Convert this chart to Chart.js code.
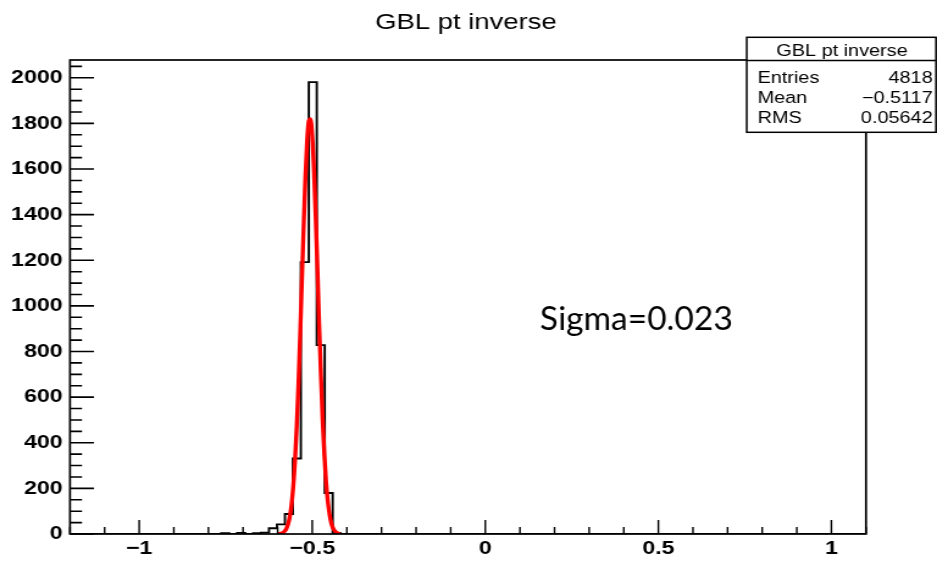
<!DOCTYPE html>
<html>
<head>
<meta charset="utf-8">
<script src="https://cdn.jsdelivr.net/npm/chart.js@4.4.1/dist/chart.umd.min.js"></script>
<style>
  html, body { margin: 0; padding: 0; background: #fff; overflow: hidden; }
  /* the ROOT canvas in the slide is stretched sideways, so draw narrow and stretch */
  #wrap { width: 768px; height: 561px; transform: scaleX(1.22005); transform-origin: 0 0; }
</style>
</head>
<body>
<div id="wrap"><canvas id="c" width="768" height="561"></canvas></div>
<script>
const S = 937 / 768;
const FONT = '"Liberation Sans", Arial, Helvetica, sans-serif';

// axis ranges and tick labels
const xRange = [-1.2, 1.1];
const yRange = [0, 2078];
const xTickValues = [-1, -0.5, 0, 0.5, 1];
const xTickLabels = ['\u22121', '\u22120.5', '0', '0.5', '1'];
const yTickValues = [0, 200, 400, 600, 800, 1000, 1200, 1400, 1600, 1800, 2000];
const yTickLabels = ['0', '200', '400', '600', '800', '1000', '1200', '1400', '1600', '1800', '2000'];

// histogram: low edges of the filled bins (bin width 0.023), counts, and the last upper edge
const binLowEdges = [-0.763, -0.740, -0.717, -0.694, -0.671, -0.648, -0.625, -0.602,
                     -0.579, -0.556, -0.533, -0.510, -0.487, -0.464, -0.441];
const binCounts   = [4, 0, 5, 0, 4, 6, 25, 42, 88, 331, 1192, 1981, 828, 180, 3];
const binLastEdge = -0.418;

// gaussian fit curve
const fitX = [-0.600, -0.595, -0.590, -0.585, -0.580, -0.575, -0.570, -0.565, -0.560, -0.555,
              -0.550, -0.545, -0.540, -0.535, -0.530, -0.525, -0.520, -0.515, -0.510, -0.505,
              -0.500, -0.495, -0.490, -0.485, -0.480, -0.475, -0.470, -0.465, -0.460, -0.455,
              -0.450, -0.445, -0.440, -0.435, -0.430, -0.425, -0.420];
const fitY = [0.5, 1, 3, 6, 12, 23, 43, 76, 128, 207,
              318, 467, 653, 871, 1108, 1345, 1557, 1720, 1811, 1820,
              1744, 1595, 1390, 1156, 917, 694, 501, 345, 226, 142,
              85, 48, 26, 14, 7, 3, 1.4];

const histTitle = 'GBL pt inverse';
const statsLabels = ['Entries', 'Mean', 'RMS'];
const statsValues = ['4818', '\u22120.5117', '0.05642'];
const fitNote = 'Sigma=0.023';

// outline points for a stepped line
const histPoints = [{ x: xRange[0], y: 0 }];
binLowEdges.forEach((e, i) => histPoints.push({ x: e, y: binCounts[i] }));
histPoints.push({ x: binLastEdge, y: 0 }, { x: xRange[1], y: 0 });

const fitPoints = fitX.map((x, i) => ({ x, y: fitY[i] }));

const rootFrame = {
  id: 'rootFrame',
  afterDatasetsDraw(chart) {
    const { ctx, chartArea: a, scales: { x, y } } = chart;
    ctx.save();
    ctx.strokeStyle = '#000';
    ctx.fillStyle = '#000';

    // inward ticks, y axis
    ctx.lineWidth = 1.6;
    ctx.beginPath();
    for (let v = 0; v <= yRange[1]; v += 50) {
      const py = y.getPixelForValue(v);
      const len = v % 200 === 0 ? 24 / S : 12 / S;
      ctx.moveTo(a.left, py);
      ctx.lineTo(a.left + len, py);
    }
    ctx.stroke();

    // inward ticks, x axis
    ctx.lineWidth = 1.4;
    ctx.beginPath();
    for (let i = -12; i <= 11; i++) {
      const px = x.getPixelForValue(i / 10);
      const len = i % 5 === 0 ? 14 : 7;
      ctx.moveTo(px, a.bottom);
      ctx.lineTo(px, a.bottom - len);
    }
    ctx.stroke();

    // frame
    ctx.lineWidth = 1.7;
    ctx.strokeRect(a.left, a.top, a.right - a.left, a.bottom - a.top);

    // title
    ctx.font = `22.5px ${FONT}`;
    ctx.textAlign = 'center';
    ctx.textBaseline = 'alphabetic';
    ctx.fillText(histTitle, 466 / S, 29);

    // stats box
    const bx = 746.7 / S, by = 37.3, bw = (936 - 746.7) / S, bh = 95;
    ctx.fillStyle = '#fff';
    ctx.fillRect(bx, by, bw, bh);
    ctx.lineWidth = 1.5;
    ctx.strokeRect(bx, by, bw, bh);
    ctx.beginPath();
    ctx.moveTo(bx, 60.5);
    ctx.lineTo(bx + bw, 60.5);
    ctx.stroke();
    ctx.fillStyle = '#000';
    ctx.font = `16.3px ${FONT}`;
    ctx.fillText(histTitle, 842 / S, 56);
    const rows = [82.7, 103.3, 123.3];
    statsLabels.forEach((t, i) => {
      ctx.textAlign = 'left';
      ctx.fillText(t, 757.5 / S, rows[i]);
      ctx.textAlign = 'right';
      ctx.fillText(statsValues[i], 932.7 / S, rows[i]);
    });

    // annotation typed on the slide (not stretched)
    ctx.save();
    ctx.scale(1 / S, 1);
    ctx.font = '33.5px Lato, "Open Sans", sans-serif';
    ctx.textAlign = 'left';
    ctx.fillText(fitNote, 540, 330);
    ctx.restore();

    ctx.restore();
  }
};

new Chart(document.getElementById('c'), {
  type: 'line',
  data: {
    datasets: [
      {
        data: fitPoints,
        borderColor: '#ff0000',
        borderWidth: 3.4,
        pointRadius: 0,
        fill: false,
        cubicInterpolationMode: 'monotone',
      },
      {
        data: histPoints,
        borderColor: '#000000',
        borderWidth: 1.9,
        pointRadius: 0,
        fill: false,
        stepped: true,
      },
    ],
  },
  options: {
    responsive: false,
    animation: false,
    events: [],
    layout: {
      padding: { left: 0, right: 768 - 866 / S, top: 60, bottom: 0 },
    },
    scales: {
      x: {
        type: 'linear',
        min: xRange[0],
        max: xRange[1],
        afterFit: (s) => { s.height = 561 - 534; },
        afterBuildTicks: (s) => { s.ticks = xTickValues.map((v) => ({ value: v })); },
        grid: { display: false, drawTicks: false },
        border: { display: false },
        ticks: {
          autoSkip: false,
          maxRotation: 0,
          padding: 3,
          color: '#000',
          font: { family: FONT, size: 19, weight: 'bold' },
          callback: (v, i) => xTickLabels[i],
        },
      },
      y: {
        type: 'linear',
        min: yRange[0],
        max: yRange[1],
        afterFit: (s) => { s.width = 70 / S; },
        afterBuildTicks: (s) => { s.ticks = yTickValues.map((v) => ({ value: v })); },
        grid: { display: false, drawTicks: false },
        border: { display: false },
        ticks: {
          autoSkip: false,
          padding: 6,
          color: '#000',
          font: { family: FONT, size: 19, weight: 'bold' },
          callback: (v, i) => yTickLabels[i],
        },
      },
    },
    plugins: {
      legend: { display: false },
      tooltip: { enabled: false },
    },
  },
  plugins: [rootFrame],
});
</script>
</body>
</html>
